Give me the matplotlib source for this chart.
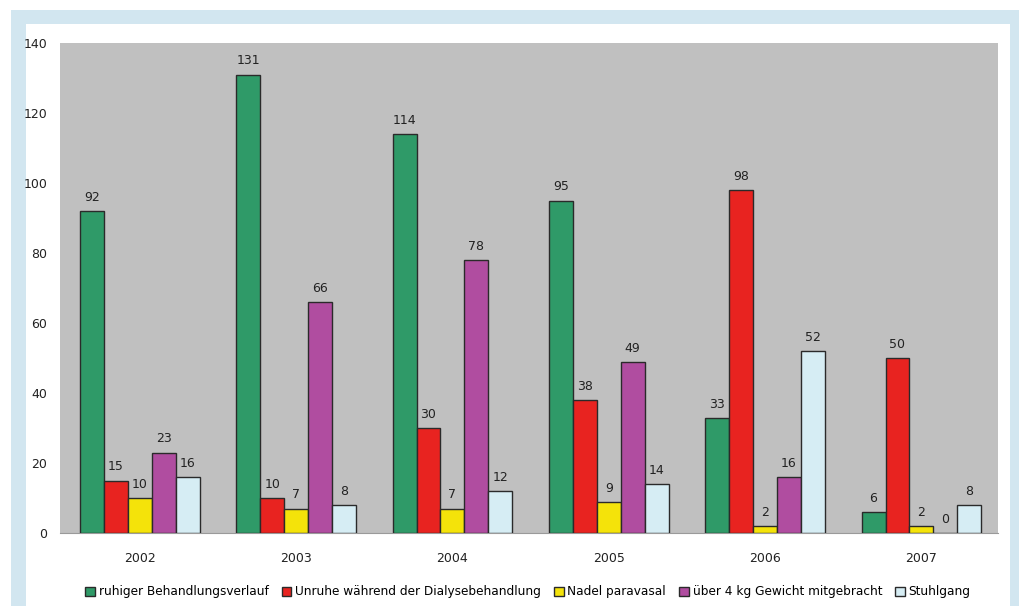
import matplotlib
matplotlib.use("Agg")
import matplotlib.pyplot as plt
from matplotlib.patches import Rectangle
import numpy as np

years = ["2002", "2003", "2004", "2005", "2006", "2007"]
series_names = [
    "ruhiger Behandlungsverlauf",
    "Unruhe während der Dialysebehandlung",
    "Nadel paravasal",
    "über 4 kg Gewicht mitgebracht",
    "Stuhlgang",
]
ruhig = [92, 131, 114, 95, 33, 6]
unruhe = [15, 10, 30, 38, 98, 50]
nadel = [10, 7, 7, 9, 2, 2]
gewicht = [23, 66, 78, 49, 16, 0]
stuhlgang = [16, 8, 12, 14, 52, 8]
series = [ruhig, unruhe, nadel, gewicht, stuhlgang]
colors = ["#2f9a68", "#e82320", "#f4e30a", "#b04da0", "#d6edf4"]

W, H = 1019, 606
fig = plt.figure(figsize=(W / 100, H / 100), dpi=100)
fig.patch.set_facecolor("white")

# frame: light blue band with white panel inside
fig.add_artist(Rectangle((11 / W, 0), (W - 11) / W, (H - 10) / H,
                         transform=fig.transFigure, facecolor="#d2e6f0",
                         edgecolor="none", zorder=0))
fig.add_artist(Rectangle((26 / W, 0), (1010 - 26) / W, (H - 24) / H,
                         transform=fig.transFigure, facecolor="white",
                         edgecolor="none", zorder=0))

left, right, top, bottom = 60, 998, 43, 533
ax = fig.add_axes([left / W, 1 - bottom / H, (right - left) / W, (bottom - top) / H])
ax.set_facecolor("#c0c0c0")

x = np.arange(len(years))
bw = 0.153
for i, (vals, c, name) in enumerate(zip(series, colors, series_names)):
    pos = x + (i - 2) * bw + 0.01
    ax.bar(pos, vals, width=bw, color=c, edgecolor="#2a2a2a", linewidth=1.0,
           label=name, zorder=3)
    for px, v in zip(pos, vals):
        ax.text(px, v + 2, str(v), ha="center", va="bottom", fontsize=9,
                color="#222222")

ax.set_xlim(-0.5, len(years) - 0.5)
ax.set_ylim(0, 140)
ax.set_yticks(range(0, 141, 20))
ax.set_xticks(x + 0.01)
ax.set_xticklabels(years)
ax.tick_params(axis="both", length=0, labelsize=9, colors="#222222")
ax.tick_params(axis="x", pad=14)
ax.tick_params(axis="y", pad=9)
for s in ["top", "right", "left"]:
    ax.spines[s].set_visible(False)
ax.spines["bottom"].set_color("#9a9a9a")

fig.legend(loc="center", bbox_to_anchor=(528 / W, 1 - 592 / H), ncol=5,
           frameon=False, fontsize=8.7, handlelength=0.8, handleheight=0.8,
           handletextpad=0.3, columnspacing=1.1)

fig.savefig("out.png", dpi=100)
